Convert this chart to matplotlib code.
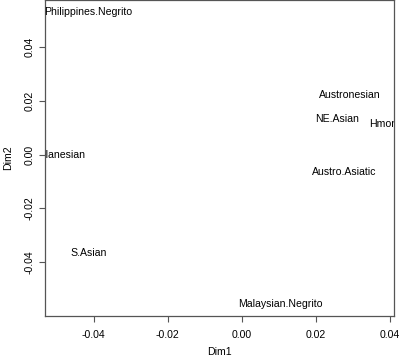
import matplotlib
matplotlib.use("Agg")
import matplotlib.pyplot as plt

plt.rcParams['font.family'] = ['Liberation Sans', 'DejaVu Sans']

groups = ["Philippines.Negrito", "Melanesian", "S.Asian", "Malaysian.Negrito",
          "Austronesian", "NE.Asian", "Hmong", "Austro.Asiatic"]
dim1 = [-0.0415, -0.0496, -0.0413, 0.0105, 0.0293, 0.0259, 0.0390, 0.0278]
dim2 = [0.0531, -0.0003, -0.0366, -0.0558, 0.0221, 0.0131, 0.0113, -0.0065]

xticks = [-0.04, -0.02, 0.00, 0.02, 0.04]
yticks = [-0.04, -0.02, 0.00, 0.02, 0.04]

fig = plt.figure(figsize=(4, 3.64), dpi=100)
ax = fig.add_axes([0.1125, 0.1327, 0.8725, 0.8663])

# labels are clipped at the box like in the R plot
for name, x, y in zip(groups, dim1, dim2):
    ax.text(x, y, name, fontsize=7.6, ha="center", va="center", clip_on=True)

ax.set_xlim(-0.05316, 0.04116)
ax.set_ylim(-0.0601, 0.0575)
ax.set_xticks(xticks)
ax.set_xticklabels([f"{v:.2f}" for v in xticks])
ax.set_yticks(yticks)
ax.set_yticklabels([f"{v:.2f}" for v in yticks], rotation=90, va="center")

for s in ax.spines.values():
    s.set_color("#555555")
    s.set_linewidth(0.9)
ax.tick_params(direction="out", length=4.3, width=0.8, color="#555555",
               labelsize=7.6, pad=6)
ax.tick_params(axis="y", pad=3.5)

fig.text(0.5487, (364 - 352) / 364, "Dim1", fontsize=7.6, ha="center", va="center")
fig.text(8 / 400, (364 - 158) / 364, "Dim2", fontsize=7.6, ha="center", va="center",
         rotation=90)

fig.savefig("out.png", dpi=100)
